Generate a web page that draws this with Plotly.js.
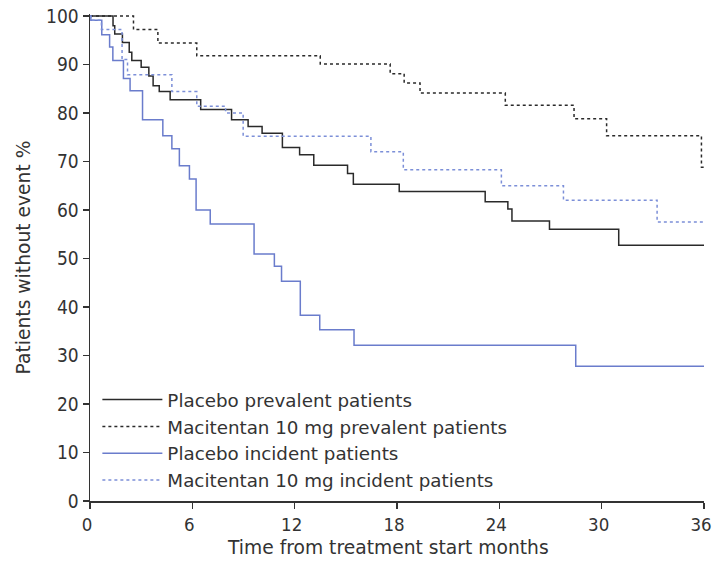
<!DOCTYPE html>
<html>
<head>
<meta charset="utf-8">
<script src="https://cdn.plot.ly/plotly-3.0.1.min.js"></script>
<style>html,body{margin:0;padding:0;background:#fff;}#chart{width:713px;height:564px;}</style>
</head>
<body>
<div id="chart"></div>
<script>
// Series names
const seriesNames = [
  "Placebo prevalent patients",
  "Macitentan 10 mg prevalent patients",
  "Placebo incident patients",
  "Macitentan 10 mg incident patients"
];

// Placebo prevalent (step curve)
const placeboPrevMonths = [0, 1.35, 1.45, 1.9, 2.3, 2.45, 3.0, 3.45, 3.7, 4.06, 4.7, 6.49, 8.3, 9.27, 10.09, 11.28, 12.29, 13.12, 15.1, 15.44, 18.13, 23.17, 24.5, 24.74, 26.94, 31.0, 36];
const placeboPrevSurv   = [100, 98.0, 96.3, 94.5, 92.5, 90.8, 89.4, 87.6, 85.6, 84.4, 82.7, 80.7, 78.6, 77.2, 75.8, 72.9, 71.4, 69.2, 67.5, 65.3, 63.8, 61.7, 60.2, 57.7, 56.0, 52.7, 52.7];

// Macitentan 10 mg prevalent
const macitPrevMonths = [0, 2.55, 3.98, 6.26, 13.5, 17.6, 18.42, 19.35, 24.35, 28.38, 30.29, 35.85, 36];
const macitPrevSurv   = [100, 97.2, 94.4, 91.8, 90.1, 88.1, 86.2, 84.1, 81.6, 78.8, 75.3, 68.8, 68.8];

// Placebo incident
const placeboIncMonths = [0, 0.05, 0.69, 1.15, 1.34, 1.96, 2.35, 3.08, 4.27, 4.80, 5.24, 5.83, 6.22, 7.05, 9.62, 10.81, 11.23, 12.33, 13.47, 15.48, 28.48, 36];
const placeboIncSurv   = [100, 99.1, 96.1, 93.6, 90.8, 87.1, 84.6, 78.6, 75.3, 72.6, 69.1, 66.4, 60.0, 57.1, 50.9, 48.4, 45.3, 38.3, 35.3, 32.1, 27.8, 27.8];

// Macitentan 10 mg incident
const macitIncMonths = [0, 0.05, 0.67, 1.88, 2.2, 4.80, 6.26, 7.95, 8.98, 16.47, 18.37, 24.12, 27.76, 33.25, 36];
const macitIncSurv   = [100, 99.1, 97.2, 91.0, 87.9, 84.4, 81.4, 80.0, 75.2, 72.0, 68.3, 65.0, 62.0, 57.5, 57.5];

const xTicks = [0, 6, 12, 18, 24, 30, 36];
const yTicks = [0, 10, 20, 30, 40, 50, 60, 70, 80, 90, 100];
const xTitle = "Time from treatment start months";
const yTitle = "Patients without event %";

const TICKFONT = "DejaVu Sans Condensed, DejaVu Sans, sans-serif";
const TEXTFONT = "DejaVu Sans, sans-serif";
const BLACK = "#2a2a2a";
const BLUE = "#6a7ccc";
const BLUE_DOT = "#7c8fd8";

const traces = [
  {x: placeboPrevMonths, y: placeboPrevSurv, name: seriesNames[0], mode: "lines",
   line: {shape: "hv", color: BLACK, width: 1.5}},
  {x: macitPrevMonths, y: macitPrevSurv, name: seriesNames[1], mode: "lines",
   line: {shape: "hv", color: BLACK, width: 1.5, dash: "3px,3px"}},
  {x: placeboIncMonths, y: placeboIncSurv, name: seriesNames[2], mode: "lines",
   line: {shape: "hv", color: BLUE, width: 1.5}},
  {x: macitIncMonths, y: macitIncSurv, name: seriesNames[3], mode: "lines",
   line: {shape: "hv", color: BLUE_DOT, width: 1.5, dash: "3px,3px"}}
];

const layout = {
  width: 713, height: 564,
  margin: {l: 90, r: 9, t: 14, b: 63},
  paper_bgcolor: "#fff", plot_bgcolor: "#fff",
  font: {family: TEXTFONT, size: 18, color: "#333"},
  showlegend: true,
  legend: {
    x: 0.012, y: 0.246, xanchor: "left", yanchor: "top",
    bgcolor: "rgba(0,0,0,0)", borderwidth: 0,
    font: {family: TEXTFONT, size: 18.3, color: "#333"},
    itemwidth: 60, tracegroupgap: 0
  },
  xaxis: {
    range: [0, 36], tickvals: xTicks, ticktext: xTicks.map(String),
    showgrid: false, zeroline: false, showline: true, linecolor: "#333", linewidth: 1.5,
    ticks: "outside", ticklen: 6, tickwidth: 1.5, tickcolor: "#333",
    ticklabeloverflow: "allow", ticklabelshift: -3,
    tickfont: {family: TICKFONT, size: 18.5, color: "#333"},
    fixedrange: true
  },
  yaxis: {
    range: [0, 100.4], tickvals: yTicks, ticktext: yTicks.map(String),
    showgrid: false, zeroline: false, showline: true, linecolor: "#333", linewidth: 1.5,
    ticks: "outside", ticklen: 6, tickwidth: 1.5, tickcolor: "#333",
    ticklabeloverflow: "allow",
    tickfont: {family: TICKFONT, size: 19, color: "#333"},
    title: {text: yTitle, font: {family: TEXTFONT, size: 18.7, color: "#333"}, standoff: 10},
    fixedrange: true
  },
  annotations: [
    {text: xTitle, xref: "paper", yref: "paper", x: 0.485, y: -0.095,
     xanchor: "center", yanchor: "middle", showarrow: false,
     font: {family: TEXTFONT, size: 18.7, color: "#333"}}
  ]
};

Plotly.newPlot("chart", traces, layout, {staticPlot: true, displayModeBar: false});
</script>
</body>
</html>
